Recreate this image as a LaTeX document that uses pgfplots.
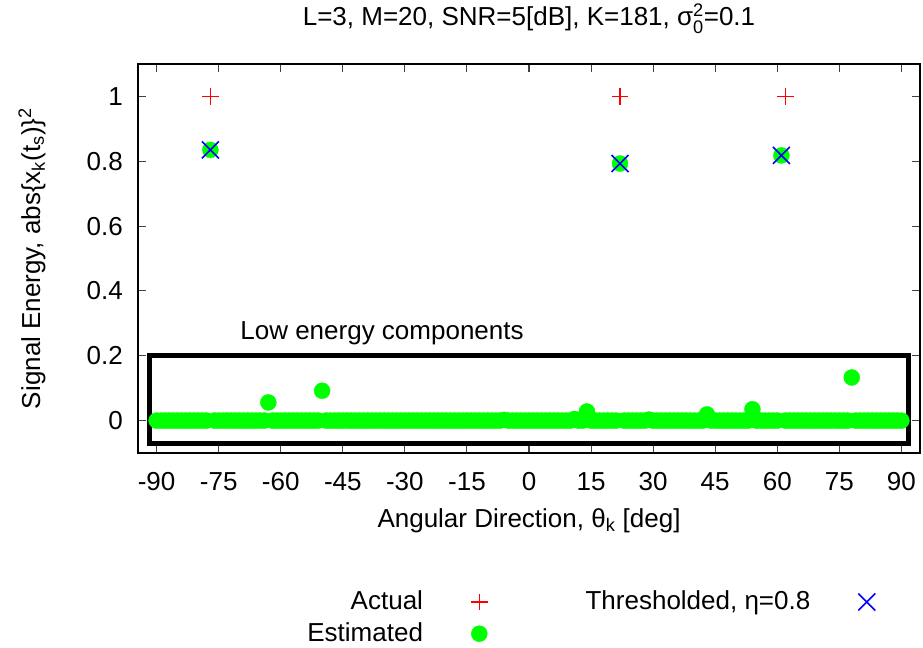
\documentclass[border=0pt]{standalone}
\usepackage{amsmath}
\usepackage{pgfplots}
\pgfplotsset{compat=1.18}
\usepackage{fontspec}
\setmainfont{Liberation Sans}
\definecolor{cgreen}{RGB}{0,255,0}
\definecolor{cred}{RGB}{255,0,0}
\definecolor{cblue}{RGB}{0,0,255}
\newcommand{\tx}[1]{\text{#1}}
\begin{document}
\fontsize{26bp}{31bp}\selectfont
\begin{tikzpicture}
\useasboundingbox (-138bp,-195bp) rectangle (785bp,453bp);
\begin{axis}[
  scale only axis,
  width=782bp, height=389bp,
  xmin=-94.5, xmax=94.5, ymin=-0.1, ymax=1.1,
  xtick={-90,-75,-60,-45,-30,-15,0,15,30,45,60,75,90},
  xticklabels={-90,-75,-60,-45,-30,-15,0,15,30,45,60,75,90},
  ytick={0,0.2,0.4,0.6,0.8,1},
  yticklabels={0,0.2,0.4,0.6,0.8,1},
  tick align=inside,
  major tick length=8bp,
  tick style={line width=1.1bp, black!75},
  axis line style={line width=1.1bp, black},
  xticklabel style={anchor=north, inner sep=0bp, yshift=-19bp},
  yticklabel style={anchor=east, inner sep=0bp, xshift=-15bp},
  title={L=3, M=20, SNR=5[dB], K=181, σ$^{\tx{2}}_{\tx{0}}$=0.1},
  title style={at={(axis description cs:0.5,1.083)}, anchor=base, inner sep=0bp},
  xlabel={Angular Direction, θ$_{\tx{k}}$ [deg]},
  xlabel style={at={(axis description cs:0.5,-0.191)}, anchor=base, inner sep=0bp},
  ylabel={Signal Energy, abs\{x$_{\tx{k}}$(t$_{\tx{s}}$)\}$^{\tx{2}}$},
  ylabel style={at={(axis description cs:-0.1355,0.5)}, anchor=center, inner sep=0bp},
  legend columns=2,
  legend plot pos=right,
  legend cell align=right,
  legend style={draw=none, fill=none, at={(axis description cs:0.210,-0.343)}, anchor=north west,
    font=\fontsize{26bp}{31bp}\selectfont,
    row sep=5bp,
    /tikz/every odd column/.style={column sep=46bp},
    /tikz/every even column/.style={column sep=96bp}},
]
% Estimated
\addplot[only marks, mark=*, mark size=8bp, color=cgreen, forget plot] coordinates {
(-90,0)(-89,0)(-88,0)(-87,0)(-86,0)(-85,0)(-84,0)(-83,0)(-82,0)(-81,0)(-80,0)(-79,0)(-78,0)
(-77,0.835)
(-76,0)(-75,0)(-74,0)(-73,0)(-72,0)(-71,0)(-70,0)(-69,0)(-68,0)(-67,0)(-66,0)(-65,0)(-64,0)
(-63,0.056)
(-62,0)(-61,0)(-60,0)(-59,0)(-58,0)(-57,0)(-56,0)(-55,0)(-54,0)(-53,0)(-52,0)(-51,0)
(-50,0.092)
(-49,0)(-48,0)(-47,0)(-46,0)(-45,0)(-44,0)(-43,0)(-42,0)(-41,0)(-40,0)(-39,0)(-38,0)(-37,0)
(-36,0)(-35,0)(-34,0)(-33,0)(-32,0)(-31,0)(-30,0)(-29,0)(-28,0)(-27,0)(-26,0)(-25,0)(-24,0)
(-23,0)(-22,0)(-21,0)(-20,0)(-19,0)(-18,0)(-17,0)(-16,0)(-15,0)(-14,0)(-13,0)(-12,0)(-11,0)
(-10,0)(-9,0)(-8,0)(-7,0)
(-6,0.002)
(-5,0)(-4,0)(-3,0)(-2,0)(-1,0)(0,0)(1,0)(2,0)(3,0)(4,0)(5,0)(6,0)(7,0)(8,0)(9,0)(10,0)
(11,0.005)
(12,0)(13,0)
(14,0.028)
(15,0)(16,0)(17,0)(18,0)(19,0)(20,0)(21,0)
(22,0.793)
(23,0)(24,0)(25,0)(26,0)(27,0)(28,0)
(29,0.003)
(30,0)(31,0)(32,0)(33,0)(34,0)(35,0)(36,0)(37,0)(38,0)(39,0)(40,0)(41,0)(42,0)
(43,0.019)
(44,0)(45,0)(46,0)(47,0)(48,0)(49,0)(50,0)(51,0)(52,0)(53,0)
(54,0.035)
(55,0)(56,0)(57,0)(58,0)(59,0)(60,0)
(61,0.818)
(62,0)(63,0)(64,0)(65,0)(66,0)(67,0)(68,0)(69,0)(70,0)(71,0)(72,0)(73,0)(74,0)(75,0)(76,0)(77,0)
(78,0.133)
(79,0)(80,0)(81,0)(82,0)(83,0)(84,0)(85,0)(86,0)(87,0)(88,0)(89,0)(90,0)
};
% Actual
\addplot[only marks, mark=+, mark size=8.3bp, color=cred, line width=1.4bp, forget plot] coordinates {
(-77,1) (22,1) (62,1)
};
% Thresholded
\addplot[only marks, mark=x, mark size=12bp, color=cblue, line width=1.6bp, forget plot] coordinates {
(-77,0.835) (22,0.793) (61,0.818)
};
\draw[line width=5bp, black] (axis cs:-91.7,-0.07) rectangle (axis cs:91.7,0.2);
\node[anchor=base west, inner sep=0bp] at (axis cs:-69.8,0.251) {Low energy components};
\addlegendimage{only marks, mark=+, mark size=8.3bp, color=cred, line width=1.4bp}
\addlegendentry{Actual}
\addlegendimage{only marks, mark=x, mark size=12bp, color=cblue, line width=1.6bp}
\addlegendentry{Thresholded, η=0.8}
\addlegendimage{only marks, mark=*, mark size=8bp, color=cgreen}
\addlegendentry{Estimated}
\end{axis}
\end{tikzpicture}
\end{document}
